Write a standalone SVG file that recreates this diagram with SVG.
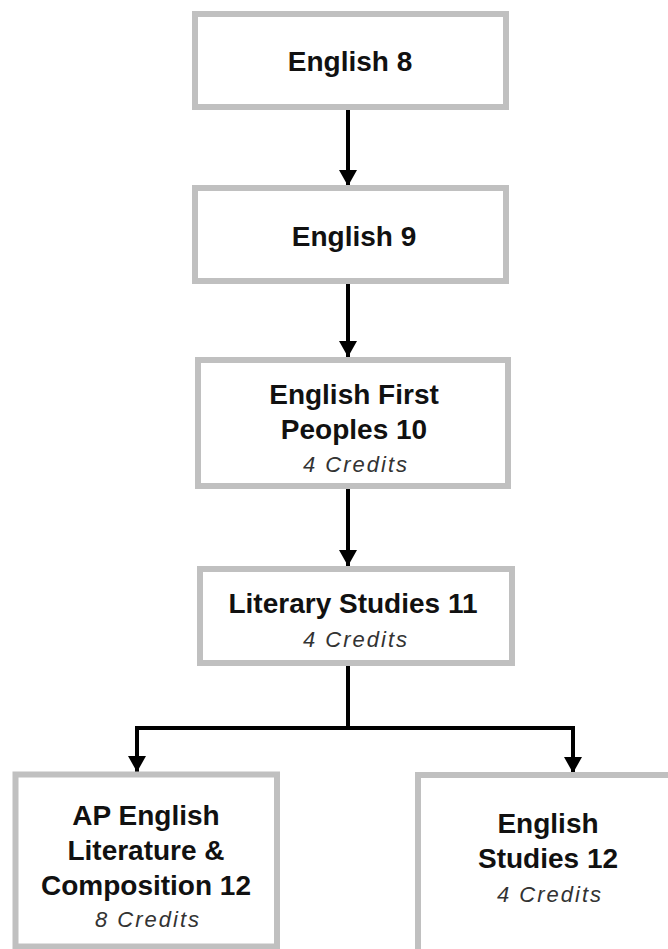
<svg xmlns="http://www.w3.org/2000/svg" width="668" height="949" viewBox="0 0 668 949">
<style>
.box{fill:#ffffff;stroke:#c0c0c0;stroke-width:6}
.t{font-family:"Liberation Sans",Arial,sans-serif;font-weight:bold;font-size:28px;fill:#111;text-anchor:middle}
.c{font-family:"Liberation Sans",Arial,sans-serif;font-style:italic;font-size:22px;letter-spacing:2px;fill:#333;text-anchor:middle}
.ln{fill:none;stroke:#000;stroke-width:4}
</style>
<defs>
<marker id="ah" markerUnits="userSpaceOnUse" markerWidth="18" markerHeight="18" refX="16" refY="9" orient="auto">
<path d="M0,0 L16,9 L0,18 z" fill="#000"/>
</marker>
</defs>
<rect width="668" height="949" fill="#fff"/>
<g id="connectors">
<path class="ln" d="M348,110 V186" marker-end="url(#ah)"/>
<path class="ln" d="M348,284 V357" marker-end="url(#ah)"/>
<path class="ln" d="M348,489 V566" marker-end="url(#ah)"/>
<path class="ln" d="M348,666 V728"/>
<path class="ln" d="M137,728 H573"/>
<path class="ln" d="M137,726 V772" marker-end="url(#ah)"/>
<path class="ln" d="M573,726 V773" marker-end="url(#ah)"/>
</g>
<g id="english8">
<rect class="box" x="195" y="14" width="311" height="93"/>
<text class="t" x="350" y="71">English 8</text>
</g>
<g id="english9">
<rect class="box" x="195" y="188" width="311" height="93"/>
<text class="t" x="354" y="246">English 9</text>
</g>
<g id="efp10">
<rect class="box" x="198" y="360" width="310" height="126"/>
<text class="t" x="354" y="404">English First</text>
<text class="t" x="354" y="439">Peoples 10</text>
<text class="c" x="356" y="472">4 Credits</text>
</g>
<g id="lit11">
<rect class="box" x="200" y="569" width="312" height="94"/>
<text class="t" x="353" y="613">Literary Studies 11</text>
<text class="c" x="356" y="647">4 Credits</text>
</g>
<g id="ap12">
<rect class="box" x="15.5" y="774.5" width="261.5" height="172"/>
<text class="t" x="146" y="825">AP English</text>
<text class="t" x="146" y="860">Literature &amp;</text>
<text class="t" x="146" y="895">Composition 12</text>
<text class="c" x="148" y="927">8 Credits</text>
</g>
<g id="es12">
<rect class="box" x="418" y="775" width="260" height="180"/>
<text class="t" x="548" y="833">English</text>
<text class="t" x="548" y="868">Studies 12</text>
<text class="c" x="550" y="902">4 Credits</text>
</g>
</svg>
